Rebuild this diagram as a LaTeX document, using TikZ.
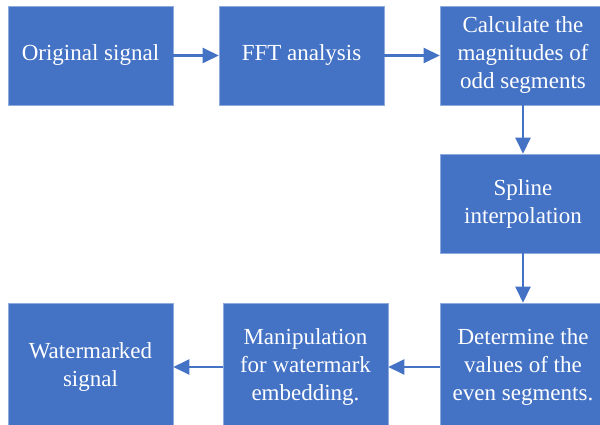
\documentclass[tikz,border=0pt]{standalone}
\usepackage{fontspec}
\setmainfont{Liberation Serif}
\usepackage{xcolor}
\usetikzlibrary{arrows.meta, positioning}

\definecolor{boxblue}{HTML}{4472C4}
\definecolor{boxedge}{HTML}{8FAADC}

\tikzset{
    stage/.style={rectangle, fill=boxblue, draw=boxedge, line width=0.6pt,
        text=white, align=center, minimum width=165pt, minimum height=99pt,
        inner sep=0pt, font=\fontsize{23}{28}\selectfont},
    tallstage/.style={stage, minimum height=128pt},
    flow/.style={draw=boxblue, line width=2.5pt, -{Triangle[length=16pt, width=15pt]}}
}

\begin{document}
\begin{tikzpicture}[x=1pt, y=-1pt]
    % Frame of the picture (the boxes on the right and bottom run past it)
    \path[use as bounding box, clip] (0,0) rectangle (600,425);
    \fill[white] (0,0) rectangle (600,425);

    % Top row
    \node[stage] (orig) at (90.5,55.5) {Original signal};
    \node[stage] (fft) at (301.5,55.5) {FFT analysis};
    \node[stage, minimum width=166pt] (calc) at (523,55.5) {Calculate the\\magnitudes of\\odd segments};

    % Right column
    \node[stage, minimum width=166pt] (spline) at (523,203.5) {Spline\\interpolation};
    \node[tallstage, minimum width=166pt] (even) at (523,367) {Determine the\\values of the\\even segments.};

    % Bottom row
    \node[tallstage] (manip) at (305.5,367) {Manipulation\\for watermark\\embedding.};
    \node[tallstage] (marked) at (90.5,367) {Watermarked\\signal};

    % Arrows
    \draw[flow] (orig) -- (fft);
    \draw[flow] (fft) -- (calc);
    \draw[flow] (calc) -- (spline);
    \draw[flow] (spline) -- (even);
    \draw[flow] (even) -- (manip);
    \draw[flow] (manip) -- (marked);
\end{tikzpicture}
\end{document}
